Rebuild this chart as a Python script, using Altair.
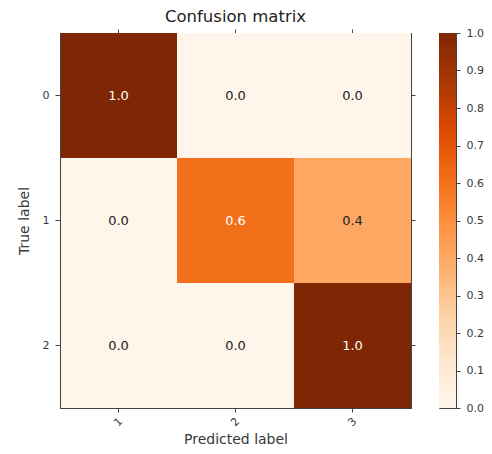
import altair as alt
import pandas as pd

true_labels = ["0", "1", "2"]
pred_labels = ["1", "2", "3"]
row_0 = [1.0, 0.0, 0.0]
row_1 = [0.0, 0.6, 0.4]
row_2 = [0.0, 0.0, 1.0]
cbar_ticks = [0.0, 0.1, 0.2, 0.3, 0.4, 0.5, 0.6, 0.7, 0.8, 0.9, 1.0]

# matplotlib "Oranges" colormap stops
cmap_stops = [0.0, 0.125, 0.25, 0.375, 0.5, 0.625, 0.75, 0.875, 1.0]
cmap_colors = ["#fff5eb", "#fee6ce", "#fdd0a2", "#fdae6b", "#fd8d3c",
               "#f16913", "#d94801", "#a63603", "#7f2704"]

records = []
for t, row in zip(true_labels, [row_0, row_1, row_2]):
    for p, v in zip(pred_labels, row):
        records.append({"true": t, "pred": p, "value": v})
df = pd.DataFrame(records)

FONT = "DejaVu Sans"
LABEL_COLOR = "#383838"
FRAME = "#444444"

cscale = alt.Scale(domain=cmap_stops, range=cmap_colors, interpolate="rgb")
xscale = alt.Scale(paddingInner=0, paddingOuter=0)
yscale = alt.Scale(paddingInner=0, paddingOuter=0)

base = alt.Chart(df)

x_main = alt.X("pred:N", sort=pred_labels, scale=xscale, title="Predicted label",
               axis=alt.Axis(labelAngle=-45, labelAlign="center", labelBaseline="middle",
                             tickSize=4, labelPadding=10, titlePadding=4,
                             labelFontSize=11, titleFontSize=14))
y_main = alt.Y("true:N", sort=true_labels, scale=yscale, title="True label",
               axis=alt.Axis(labelAngle=0, tickSize=5, labelPadding=6, titlePadding=11,
                             labelFontSize=11, titleFontSize=14))

heat = base.mark_rect().encode(
    x=x_main, y=y_main,
    color=alt.Color("value:Q", scale=cscale, legend=None),
)

text = base.mark_text(font=FONT, fontSize=13).encode(
    x=alt.X("pred:N", sort=pred_labels, scale=xscale, axis=None),
    y=alt.Y("true:N", sort=true_labels, scale=yscale, axis=None),
    text=alt.Text("value:Q", format=".1f"),
    color=alt.condition(alt.datum.value > 0.5, alt.value("white"), alt.value("#222222")),
)

ticks_top_right = base.mark_point(opacity=0).encode(
    x=alt.X("pred:N", sort=pred_labels, scale=xscale,
            axis=alt.Axis(orient="top", labels=False, title=None, tickSize=4)),
    y=alt.Y("true:N", sort=true_labels, scale=yscale,
            axis=alt.Axis(orient="right", labels=False, title=None, tickSize=4)),
)

main = alt.layer(heat, text, ticks_top_right).resolve_axis(
    x="independent", y="independent"
).properties(width=351, height=375, title=alt.TitleParams(
    "Confusion matrix", font=FONT, fontSize=16.5, fontWeight="normal", color="#222222", offset=3))

cbar = alt.Chart(alt.sequence(0, 1, 0.01, as_="v")).transform_calculate(
    v2="min(datum.v + 0.012, 1)"
).mark_rect().encode(
    y=alt.Y("v:Q", scale=alt.Scale(domain=[0, 1], nice=False, zero=False),
            axis=alt.Axis(orient="right", values=cbar_ticks, format=".1f", tickSize=4,
                          labelPadding=6, title=None, grid=False, labelFontSize=11)),
    y2="v2:Q",
    color=alt.Color("v:Q", scale=cscale, legend=None),
).properties(width=17, height=375)

chart = alt.hconcat(main, cbar, spacing=22).configure_axis(
    labelFont=FONT, titleFont=FONT,
    labelColor=LABEL_COLOR, titleColor=LABEL_COLOR, titleFontWeight="normal",
    domainColor=FRAME, tickColor=FRAME, grid=False,
).configure_view(stroke=FRAME, strokeWidth=1).properties(
    padding={"left": 8, "top": 0, "right": 0, "bottom": 0}
)

chart.save("out.html", embed_options={"renderer": "svg", "actions": False})
